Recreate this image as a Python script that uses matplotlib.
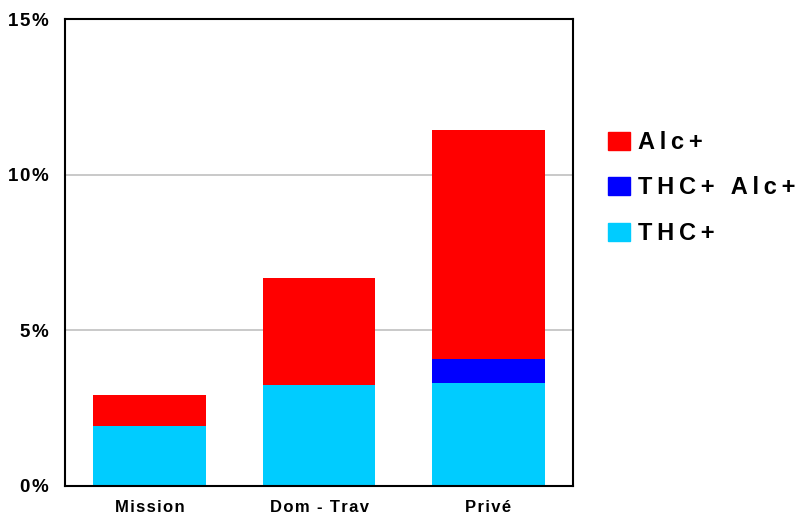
import matplotlib
matplotlib.use('Agg')
import matplotlib.pyplot as plt
import numpy as np
from matplotlib.patches import Patch

categories = ['Mission', 'Dom - Trav', 'Privé']
thc = [1.93, 3.24, 3.30]
thc_alc = [0.0, 0.0, 0.78]
alc = [1.0, 3.45, 7.36]
yticks = [0, 5, 10, 15]

colors = {'THC+': '#00ccff', 'THC+ Alc+': '#0000ff', 'Alc+': '#ff0000'}

plt.rcParams['font.family'] = ['Liberation Sans', 'DejaVu Sans']
plt.rcParams['font.weight'] = 'bold'


def spaced(text, sep='\u200a'):
    # imitate the wide letter spacing of the original
    return sep.join(text)


fig = plt.figure(figsize=(7.99, 5.17), dpi=100)
ax = fig.add_axes([65 / 799, 31 / 517, 508 / 799, 467 / 517])

x = np.arange(len(categories))
w = 0.667
thc = np.array(thc)
thc_alc = np.array(thc_alc)
alc = np.array(alc)
ax.bar(x, thc, w, color=colors['THC+'], zorder=2)
ax.bar(x, thc_alc, w, bottom=thc, color=colors['THC+ Alc+'], zorder=2)
ax.bar(x, alc, w, bottom=thc + thc_alc, color=colors['Alc+'], zorder=2)

ax.set_xlim(-0.5, 2.5)
ax.set_ylim(0, 15)
ax.set_yticks(yticks)
ax.set_yticklabels([spaced(f'{t}%') for t in yticks], fontsize=13.5, fontweight='bold')
ax.set_xticks(x)
ax.set_xticklabels([spaced(c) for c in categories], fontsize=12, fontweight='bold')
ax.tick_params(axis='y', length=0, pad=12)
ax.tick_params(axis='x', length=0, pad=10)
ax.yaxis.grid(True, color='#c0c0c0', linewidth=1.2, zorder=0)
ax.set_axisbelow(True)
for s in ax.spines.values():
    s.set_linewidth(1.5)
    s.set_color('black')

handles = [Patch(color=colors[k]) for k in ['Alc+', 'THC+ Alc+', 'THC+']]
labels = [spaced(k, '\u2009') for k in ['Alc+', 'THC+ Alc+', 'THC+']]
fig.legend(handles, labels, loc='center left', bbox_to_anchor=(608 / 799, 1 - 188 / 517),
           frameon=False, prop={'size': 17, 'weight': 'bold'},
           handlelength=0.93, handleheight=0.8, handletextpad=0.35, labelspacing=0.95,
           borderpad=0, borderaxespad=0)

fig.savefig('out.png', dpi=100)
